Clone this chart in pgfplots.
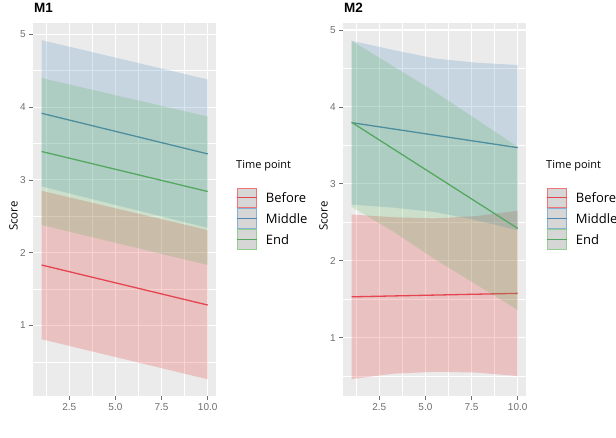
\documentclass[border=0pt]{standalone}
\usepackage{fontspec}
\setmainfont{Open Sans}
\newfontfamily\arialfont{Liberation Sans}
\usepackage{pgfplots}
\pgfplotsset{compat=1.18}
\definecolor{cRed}{HTML}{E41A1C}
\definecolor{cBlue}{HTML}{377EB8}
\definecolor{cGreen}{HTML}{4DAF4A}
\definecolor{lRed}{HTML}{E6444F}
\definecolor{lBlue}{HTML}{4E86B4}
\definecolor{lGreen}{HTML}{55A860}
\definecolor{panelbg}{HTML}{EBEBEB}
\definecolor{tickgray}{HTML}{6E6E6E}
\definecolor{keyfill}{HTML}{D6D6D6}

\pgfplotsset{ggstyle/.style={
  scale only axis, width=182.7pt, height=373.3pt,
  xmin=0.55, xmax=10.45,
  axis background/.style={fill=panelbg},
  axis line style={draw=none},
  grid=both,
  major grid style={white, line width=1.1pt},
  minor grid style={white, line width=0.55pt},
  xtick={2.5,5,7.5,10}, minor xtick={1.25,3.75,6.25,8.75},
  ytick={1,2,3,4,5}, minor ytick={0.5,1.5,2.5,3.5,4.5},
  x tick label style={/pgf/number format/fixed, /pgf/number format/fixed zerofill, /pgf/number format/precision=1},
  tick align=outside, tick pos=left, major tick length=4pt, minor tick length=0pt,
  tick style={tickgray, line width=0.6pt},
  tick label style={font=\arialfont\fontsize{10}{12}\selectfont, text=tickgray},
  /pgf/number format/assume math mode=true,
  ylabel={Score},
  ylabel style={at={(axis description cs:-0.108,0.482)}, anchor=center, font=\fontsize{11.5}{13}\selectfont},
  rib/.style={fill=##1, fill opacity=0.2, draw=none, forget plot},
  ln/.style={##1, line width=1.3pt, forget plot},
}}

\newcommand{\legendblock}{%
  \node[anchor=base west, inner sep=0pt, font=\fontsize{11}{13}\selectfont] at (236pt,268pt) {Time point};
  \fill[keyfill] (236.7pt,228.7pt) rectangle (257pt,249.3pt);
  \draw[cRed!60!white, line width=1pt] (237.2pt,229.2pt) rectangle (256.5pt,248.8pt);
  \draw[lRed, line width=1pt] (237.2pt,239pt) -- (256.5pt,239pt);
  \fill[keyfill] (236.7pt,208pt) rectangle (257pt,228.7pt);
  \draw[cBlue!60!white, line width=1pt] (237.2pt,208.5pt) rectangle (256.5pt,228.2pt);
  \draw[lBlue, line width=1pt] (237.2pt,218.3pt) -- (256.5pt,218.3pt);
  \fill[keyfill] (236.7pt,187pt) rectangle (257pt,208pt);
  \draw[cGreen!60!white, line width=1pt] (237.2pt,187.5pt) rectangle (256.5pt,207.5pt);
  \draw[lGreen, line width=1pt] (237.2pt,197.5pt) -- (256.5pt,197.5pt);
  \node[anchor=west, inner sep=0pt, font=\fontsize{13}{15}\selectfont] at (265.7pt,239pt) {Before};
  \node[anchor=west, inner sep=0pt, font=\fontsize{13}{15}\selectfont] at (265.7pt,218.3pt) {Middle};
  \node[anchor=west, inner sep=0pt, font=\fontsize{13}{15}\selectfont] at (265.7pt,197.5pt) {End};
}

\begin{document}
\begin{tikzpicture}
\useasboundingbox (0pt,0pt) rectangle (616pt,437pt);

% ---------- M1 ----------
\begin{axis}[ggstyle, at={(33.3pt,41pt)}, anchor=south west, ymin=0.03, ymax=5.16]
\addplot[rib=cRed] coordinates {(1,2.85) (10,2.31) (10,0.26) (1,0.81)} -- cycle;
\addplot[ln=lRed] coordinates {(1,1.83) (10,1.28)};
\addplot[rib=cBlue] coordinates {(1,4.92) (10,4.38) (10,2.34) (1,2.91)} -- cycle;
\addplot[ln=lBlue] coordinates {(1,3.915) (10,3.357)};
\addplot[rib=cGreen] coordinates {(1,4.40) (10,3.87) (10,1.83) (1,2.38)} -- cycle;
\addplot[ln=lGreen] coordinates {(1,3.39) (10,2.84)};
\end{axis}
\node[anchor=base west, inner sep=0pt, font=\arialfont\bfseries\fontsize{13.5}{15}\selectfont] at (34pt,424.3pt) {M1};

% ---------- M2 ----------
\begin{axis}[ggstyle, at={(343.3pt,41pt)}, anchor=south west, ymin=0.24, ymax=5.095]
\addplot[rib=cRed] coordinates {(1,2.60) (3.25,2.565) (5.5,2.55) (7.75,2.58) (10,2.65)
  (10,0.50) (7.75,0.545) (5.5,0.555) (3.25,0.53) (1,0.46)} -- cycle;
\addplot[ln=lRed] coordinates {(1,1.53) (10,1.575)};
\addplot[rib=cBlue] coordinates {(1,4.86) (3.25,4.74) (5.5,4.63) (7.75,4.575) (10,4.545)
  (10,2.395) (7.75,2.527) (5.5,2.633) (3.25,2.69) (1,2.73)} -- cycle;
\addplot[ln=lBlue] coordinates {(1,3.795) (10,3.47)};
\addplot[rib=cGreen] coordinates {(1,4.86) (3.25,4.53) (5.5,4.20) (7.75,3.84) (10,3.48)
  (10,1.36) (7.75,1.69) (5.5,2.02) (3.25,2.38) (1,2.70)} -- cycle;
\addplot[ln=lGreen] coordinates {(1,3.80) (10,2.42)};
\end{axis}
\node[anchor=base west, inner sep=0pt, font=\arialfont\bfseries\fontsize{13.5}{15}\selectfont] at (344pt,424.3pt) {M2};

\legendblock
\begin{scope}[xshift=310pt]
\legendblock
\end{scope}
\end{tikzpicture}
\end{document}
